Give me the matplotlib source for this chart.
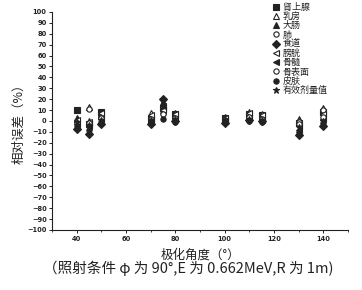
import matplotlib
matplotlib.use("Agg")
import matplotlib.pyplot as plt
from matplotlib.ticker import MultipleLocator

plt.rcParams['font.family'] = ['Noto Sans CJK SC', 'DejaVu Sans']

angles = [40, 45, 50, 70, 75, 80, 100, 110, 115, 130, 140]
names = ["肾上腺", "乳房", "大肠", "肺", "食道", "膀胱", "骨髓", "骨表面", "皮肤", "有效剂量值"]
adrenal = [10, -3, 8, 2, 12, 6, 3, 6, 5, -2, 8]
breast = [3, 13, 6, 7, 15, 7, 4, 8, 6, 2, 12]
colon = [2, 0, 5, 1, 17, 5, 3, 5, 4, 0, 9]
lung = [0, 11, 4, 3, 7, 4, 2, 6, 3, -1, 10]
esophagus = [-7, -12, -3, -3, 20, 0, -2, 1, 0, -13, -5]
bladder = [1, -1, 7, 5, 10, 6, 3, 7, 5, -5, 6]
marrow = [-3, -5, 2, 0, 14, 2, 0, 3, 1, -8, 2]
bone_surface = [-2, -2, 3, 2, 6, 3, 1, 4, 2, -3, 4]
skin = [-5, -8, -1, -1, 2, -1, -1, 0, -1, -10, -2]
effective = [-1, -4, 1, 1, 18, 2, 1, 2, 1, -6, 0]
series = [adrenal, breast, colon, lung, esophagus, bladder, marrow, bone_surface, skin, effective]
markers = ["s", "^", "^", "o", "D", "<", "<", "o", "o", "*"]
filled = [True, False, True, False, True, False, True, False, True, True]

fig = plt.figure(figsize=(3.62, 2.90), dpi=100)
ax = fig.add_axes([0.144, 0.207, 0.817, 0.752])
c = "#222222"
for vals, m, f, n in zip(series, markers, filled, names):
    ax.plot(angles, vals, linestyle="none", marker=m, markersize=3.8 if m != "*" else 4.8,
            markerfacecolor=c if f else "white", markeredgecolor=c, markeredgewidth=0.8, label=n)

ax.set_xlim(30, 150)
ax.set_ylim(-100, 100)
ax.xaxis.set_major_locator(MultipleLocator(20))
ax.xaxis.set_minor_locator(MultipleLocator(10))
ax.yaxis.set_major_locator(MultipleLocator(10))
for s in ["top", "right"]:
    ax.spines[s].set_visible(False)
for s in ["left", "bottom"]:
    ax.spines[s].set_color(c)
    ax.spines[s].set_linewidth(0.8)
ax.tick_params(axis="both", which="major", labelsize=4.8, length=2.5, width=0.7, colors=c, pad=1.5)
ax.tick_params(axis="x", which="minor", length=1.5, width=0.6, colors=c)
for lab in ax.get_xticklabels() + ax.get_yticklabels():
    lab.set_fontweight("bold")
    lab.set_family("DejaVu Sans")

ax.set_ylabel("相对误差（%）", fontsize=9, color=c, labelpad=1)
ax.set_xlabel("极化角度（°）", fontsize=9, color=c, labelpad=5)
fig.text(0.52, 0.074, "（照射条件 φ 为 90°,E 为 0.662MeV,R 为 1m)", ha="center", va="center",
         fontsize=10.5, color=c)

leg = ax.legend(loc="upper left", bbox_to_anchor=(0.751, 0.99), bbox_transform=fig.transFigure,
                frameon=False, fontsize=6.5, handletextpad=0.2, labelspacing=0.02,
                handlelength=1.0, borderaxespad=0.0, borderpad=0.0)
for t in leg.get_texts():
    t.set_color(c)

fig.savefig("out.png", dpi=100)
